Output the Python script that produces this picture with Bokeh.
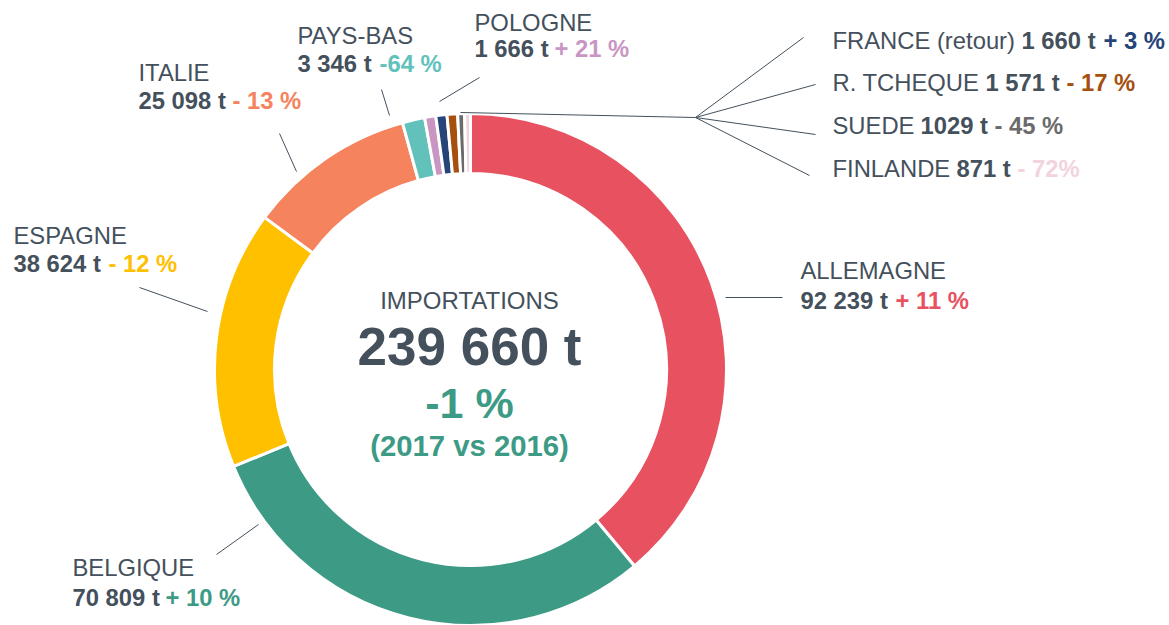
import math
from bokeh.plotting import figure
from bokeh.models import ColumnDataSource
from bokeh.core.properties import value
from bokeh.embed import file_html
from bokeh.resources import INLINE

# ---------------- data ----------------
countries = ["ALLEMAGNE", "BELGIQUE", "ESPAGNE", "ITALIE", "PAYS-BAS", "POLOGNE",
             "FRANCE (retour)", "R. TCHEQUE", "SUEDE", "FINLANDE"]
tonnes = [92239, 70809, 38624, 25098, 3346, 1666, 1660, 1571, 1029, 871]
value_labels = ["92 239 t", "70 809 t", "38 624 t", "25 098 t", "3 346 t", "1 666 t",
                "1 660 t", "1 571 t", "1029 t", "871 t"]
change_labels = ["+ 11 %", "+ 10 %", "- 12 %", "- 13 %", "-64 %", "+ 21 %",
                 "+ 3 %", "- 17 %", "- 45 %", "- 72%"]
colors = ["#E8515F", "#3D9A85", "#FFC000", "#F5845E", "#62C2BB", "#C996C3",
          "#264478", "#A5500E", "#6B6B6B", "#F2D3DE"]
center_lines = ["IMPORTATIONS", "239 660 t", "-1 %", "(2017 vs 2016)"]

# ---------------- layout (pixels) ----------------
W, H = 1169, 625
CX, CY = 470, 369
R_OUT, R_IN = 256, 196
DARK = "#44505C"
FONT = value("Liberation Sans")
LBL = 23.8
SHIFT = 0.41  # baseline correction (em) for the svg renderer

# label layout: (name_x, name_baseline, value_x, value_baseline, change_x)
label_pos = [
    (800, 280, 800, 310, 895),
    (72, 577, 72, 607, 165),
    (13, 245, 13, 273, 108),
    (138, 82, 138, 110, 232),
    (297, 45, 297, 73, 379),
    (474, 32, 474, 58, 554),
    (832, 50, 1021, 50, 1103),
    (832, 92, 985, 92, 1066),
    (832, 135, 920, 135, 994),
    (832, 178, 956, 178, 1017),
]
leaders = [
    ((725, 297), (782, 297)),
    ((216, 554), (258, 524)),
    ((139, 287), (207, 311)),
    ((279, 133), (296, 171)),
    ((381, 89), (389, 115)),
    ((479, 77), (439, 101)),
    ((460, 112), (695, 117)),
    ((695, 117), (803, 37)),
    ((695, 117), (815, 84)),
    ((695, 117), (815, 134)),
    ((695, 117), (809, 175)),
]
center_layout = [(310, 24, "normal", DARK), (368, 53, "bold", DARK),
                 (420, 43, "bold", "#3D9A85"), (457, 29.3, "bold", "#3D9A85")]

# ---------------- figure ----------------
p = figure(width=W, height=H, x_range=(0, W), y_range=(-H, 0),
           output_backend="svg", toolbar_location=None, min_border=0)
p.axis.visible = False
p.grid.visible = False
p.outline_line_color = None
p.background_fill_color = "white"
p.border_fill_color = "white"

total = sum(tonnes)
starts, ends = [], []
cum = 0.0
for t in tonnes:
    a0 = cum / total
    cum += t
    a1 = cum / total
    # clockwise from 12 o'clock
    starts.append(math.pi / 2 - a1 * 2 * math.pi)
    ends.append(math.pi / 2 - a0 * 2 * math.pi)

src = ColumnDataSource(dict(start=starts, end=ends, color=colors, country=countries,
                            tonnes=tonnes))
p.annular_wedge(x=CX, y=-CY, inner_radius=R_IN, outer_radius=R_OUT,
                start_angle="start", end_angle="end", fill_color="color",
                line_color="white", line_width=3, source=src)

# leader lines
p.segment(x0=[a[0] for a, b in leaders], y0=[-a[1] for a, b in leaders],
          x1=[b[0] for a, b in leaders], y1=[-b[1] for a, b in leaders],
          line_color=DARK, line_width=1)


def put(x, base, txt, fs, style, col, align="left"):
    p.text(x=[x], y=[-(base - SHIFT * fs)], text=[txt], text_font=FONT,
           text_font_size=f"{fs}px", text_font_style=style, text_color=col,
           text_baseline="alphabetic", text_align=align)


# labels
for i, (nx, ny, vx, vy, chx) in enumerate(label_pos):
    put(nx, ny, countries[i], LBL, "normal", DARK)
    put(vx, vy, value_labels[i], LBL, "bold", DARK)
    put(chx, vy, change_labels[i], LBL, "bold", colors[i])

# center text
for txt, (by, fs, st, col) in zip(center_lines, center_layout):
    put(469, by, txt, fs, st, col, align="center")

open("out.html", "w").write(file_html(p, INLINE))
